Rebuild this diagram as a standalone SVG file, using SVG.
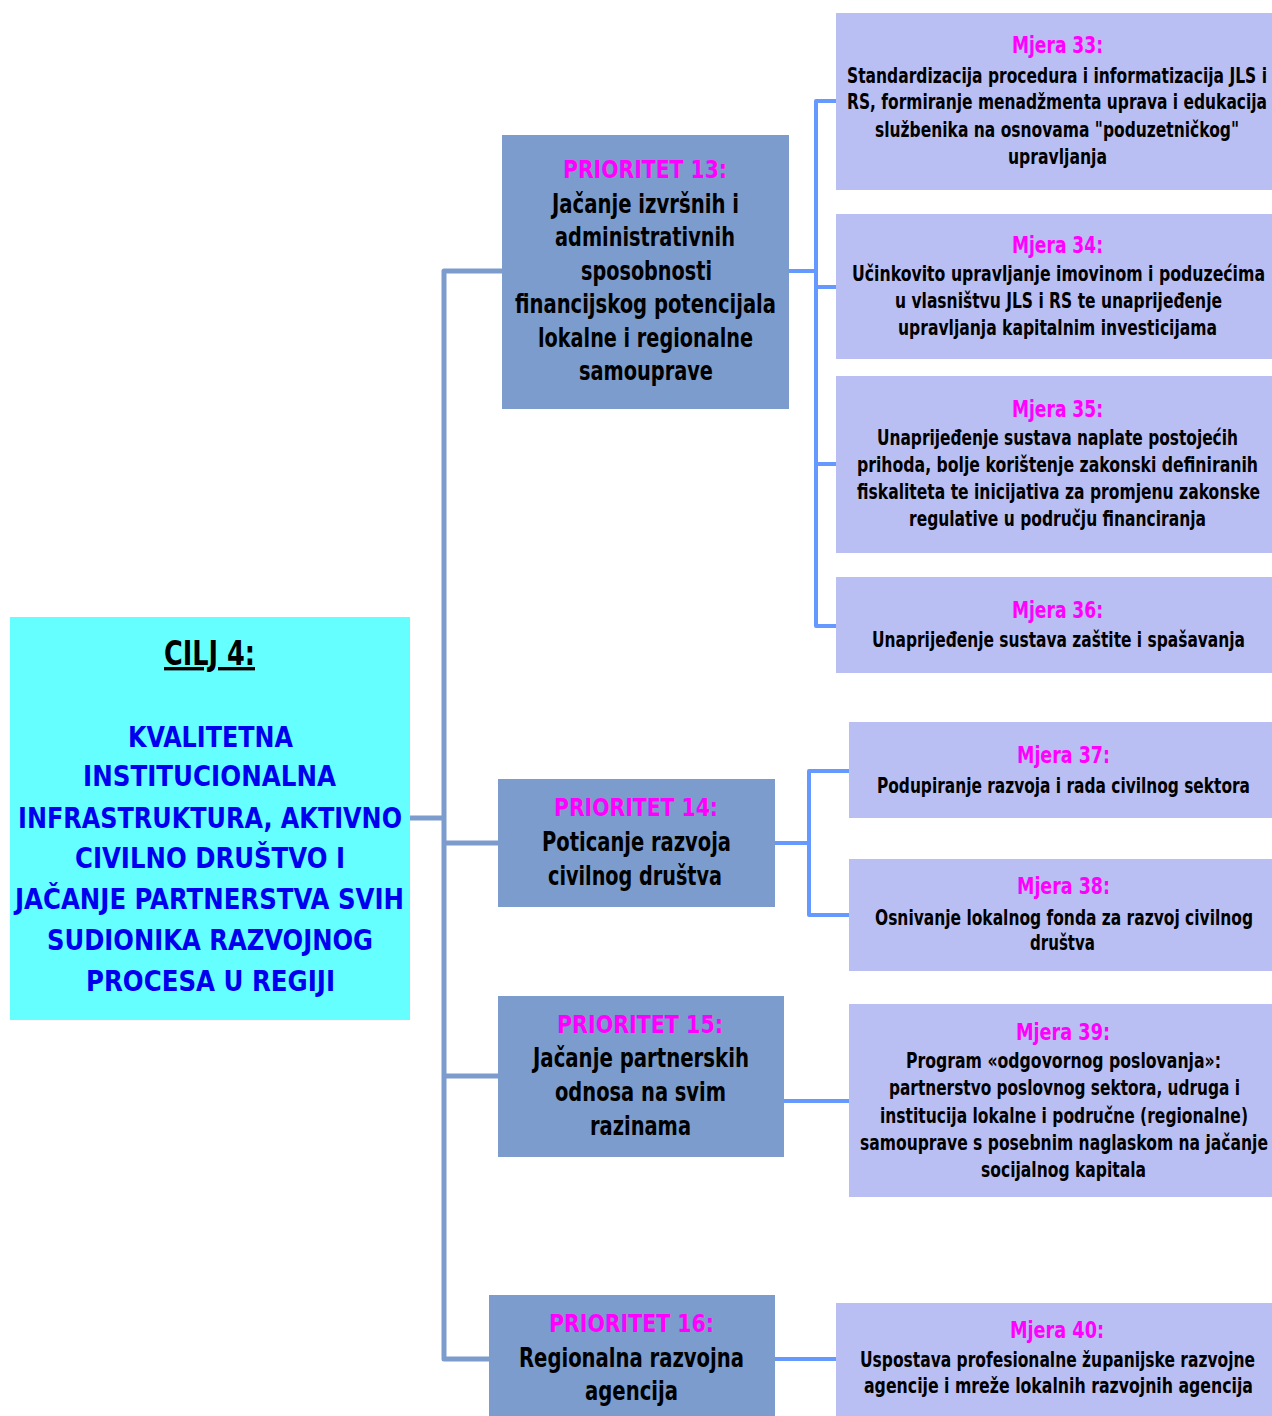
<svg xmlns="http://www.w3.org/2000/svg" width="1272" height="1416" viewBox="0 0 1272 1416">
<style>
text{font-family:"DejaVu Sans Condensed","DejaVu Sans",sans-serif;font-weight:bold;text-anchor:middle;}
.goal{fill:#66FFFF;}
.pri{fill:#7B9CCC;}
.mj{fill:#B9BFF2;}
.gt{fill:#0000EE;font-size:28px;}
.ct{fill:#000;font-size:34px;text-decoration:underline;}
.pt{fill:#FF00FF;font-size:25px;}
.pb{fill:#000;font-size:27px;}
.mt{fill:#FF00FF;font-size:23px;}
.mb{fill:#000;font-size:21px;}
.trunk{stroke:#7B9CCC;stroke-width:5;fill:none;stroke-linecap:round;stroke-linejoin:round;}
.br{stroke:#6699FF;stroke-width:4;fill:none;stroke-linecap:round;stroke-linejoin:round;}
</style>
<rect width="1272" height="1416" fill="#fff"/>
<g id="connectors">
<path class="trunk" d="M410,818 H444 M502,271 H444 V1359 H489 M444,843 H498 M444,1076 H498"/>
<path class="br" d="M789,271 H816 M836,101 H816 V626 H836 M816,287 H836 M816,464 H836"/>
<path class="br" d="M775,843 H809 M849,771 H809 V915 H849"/>
<path class="br" d="M784,1101 H849"/>
<path class="br" d="M775,1359 H836"/>
</g>
<g id="cilj4">
<rect class="goal" x="10" y="617" width="400" height="403"/>
<text class="ct" x="209.5" y="665" textLength="91" lengthAdjust="spacingAndGlyphs">CILJ 4:</text>
<text class="gt" x="210.5" y="747" textLength="165" lengthAdjust="spacingAndGlyphs">KVALITETNA</text>
<text class="gt" x="209.5" y="786" textLength="253" lengthAdjust="spacingAndGlyphs">INSTITUCIONALNA</text>
<text class="gt" x="210" y="828" textLength="384" lengthAdjust="spacingAndGlyphs">INFRASTRUKTURA, AKTIVNO</text>
<text class="gt" x="210" y="868" textLength="270" lengthAdjust="spacingAndGlyphs">CIVILNO DRUŠTVO I</text>
<text class="gt" x="209.5" y="909" textLength="389" lengthAdjust="spacingAndGlyphs">JAČANJE PARTNERSTVA SVIH</text>
<text class="gt" x="210" y="950" textLength="326" lengthAdjust="spacingAndGlyphs">SUDIONIKA RAZVOJNOG</text>
<text class="gt" x="210.5" y="991" textLength="249" lengthAdjust="spacingAndGlyphs">PROCESA U REGIJI</text>
</g>
<g id="prioritet13">
<rect class="pri" x="502" y="135" width="287" height="274"/>
<text class="pt" x="645" y="178" textLength="164" lengthAdjust="spacingAndGlyphs">PRIORITET 13:</text>
<text class="pb" x="645.5" y="213" textLength="187" lengthAdjust="spacingAndGlyphs">Jačanje izvršnih i</text>
<text class="pb" x="645" y="246" textLength="180" lengthAdjust="spacingAndGlyphs">administrativnih</text>
<text class="pb" x="646.5" y="280" textLength="131" lengthAdjust="spacingAndGlyphs">sposobnosti</text>
<text class="pb" x="645.5" y="313" textLength="261" lengthAdjust="spacingAndGlyphs">financijskog potencijala</text>
<text class="pb" x="645.5" y="347" textLength="215" lengthAdjust="spacingAndGlyphs">lokalne i regionalne</text>
<text class="pb" x="646" y="380" textLength="134" lengthAdjust="spacingAndGlyphs">samouprave</text>
</g>
<g id="prioritet14">
<rect class="pri" x="498" y="779" width="277" height="128"/>
<text class="pt" x="636" y="816" textLength="164" lengthAdjust="spacingAndGlyphs">PRIORITET 14:</text>
<text class="pb" x="636.5" y="851" textLength="189" lengthAdjust="spacingAndGlyphs">Poticanje razvoja</text>
<text class="pb" x="635" y="885" textLength="174" lengthAdjust="spacingAndGlyphs">civilnog društva</text>
</g>
<g id="prioritet15">
<rect class="pri" x="498" y="996" width="286" height="161"/>
<text class="pt" x="640" y="1033" textLength="166" lengthAdjust="spacingAndGlyphs">PRIORITET 15:</text>
<text class="pb" x="641" y="1067" textLength="216" lengthAdjust="spacingAndGlyphs">Jačanje partnerskih</text>
<text class="pb" x="640.5" y="1101" textLength="171" lengthAdjust="spacingAndGlyphs">odnosa na svim</text>
<text class="pb" x="640.5" y="1135" textLength="101" lengthAdjust="spacingAndGlyphs">razinama</text>
</g>
<g id="prioritet16">
<rect class="pri" x="489" y="1295" width="286" height="121"/>
<text class="pt" x="631.5" y="1332" textLength="165" lengthAdjust="spacingAndGlyphs">PRIORITET 16:</text>
<text class="pb" x="631.5" y="1367" textLength="225" lengthAdjust="spacingAndGlyphs">Regionalna razvojna</text>
<text class="pb" x="631.5" y="1400" textLength="93" lengthAdjust="spacingAndGlyphs">agencija</text>
</g>
<g id="mjera33">
<rect class="mj" x="836" y="13" width="436" height="177"/>
<text class="mt" x="1057.5" y="53" textLength="91" lengthAdjust="spacingAndGlyphs">Mjera 33:</text>
<text class="mb" x="1057" y="83" textLength="420" lengthAdjust="spacingAndGlyphs">Standardizacija procedura i informatizacija JLS i</text>
<text class="mb" x="1057" y="109" textLength="420" lengthAdjust="spacingAndGlyphs">RS, formiranje menadžmenta uprava i edukacija</text>
<text class="mb" x="1057" y="137" textLength="364" lengthAdjust="spacingAndGlyphs">službenika na osnovama "poduzetničkog"</text>
<text class="mb" x="1057.5" y="164" textLength="99" lengthAdjust="spacingAndGlyphs">upravljanja</text>
</g>
<g id="mjera34">
<rect class="mj" x="836" y="214" width="436" height="145"/>
<text class="mt" x="1057.5" y="253" textLength="91" lengthAdjust="spacingAndGlyphs">Mjera 34:</text>
<text class="mb" x="1058.5" y="281" textLength="413" lengthAdjust="spacingAndGlyphs">Učinkovito upravljanje imovinom i  poduzećima</text>
<text class="mb" x="1058.5" y="308" textLength="327" lengthAdjust="spacingAndGlyphs">u vlasništvu JLS i RS te unaprijeđenje</text>
<text class="mb" x="1057.5" y="335" textLength="319" lengthAdjust="spacingAndGlyphs">upravljanja kapitalnim investicijama</text>
</g>
<g id="mjera35">
<rect class="mj" x="836" y="376" width="436" height="177"/>
<text class="mt" x="1057.5" y="417" textLength="91" lengthAdjust="spacingAndGlyphs">Mjera 35:</text>
<text class="mb" x="1057.5" y="445" textLength="361" lengthAdjust="spacingAndGlyphs">Unaprijeđenje sustava naplate postojećih</text>
<text class="mb" x="1057.5" y="472" textLength="401" lengthAdjust="spacingAndGlyphs">prihoda, bolje korištenje  zakonski definiranih</text>
<text class="mb" x="1058.5" y="499" textLength="403" lengthAdjust="spacingAndGlyphs">fiskaliteta te inicijativa za promjenu zakonske</text>
<text class="mb" x="1057.5" y="526" textLength="297" lengthAdjust="spacingAndGlyphs">regulative u području financiranja</text>
</g>
<g id="mjera36">
<rect class="mj" x="836" y="577" width="436" height="96"/>
<text class="mt" x="1057.5" y="618" textLength="91" lengthAdjust="spacingAndGlyphs">Mjera 36:</text>
<text class="mb" x="1058.5" y="647" textLength="373" lengthAdjust="spacingAndGlyphs">Unaprijeđenje sustava zaštite i spašavanja</text>
</g>
<g id="mjera37">
<rect class="mj" x="849" y="722" width="423" height="96"/>
<text class="mt" x="1063.5" y="763" textLength="93" lengthAdjust="spacingAndGlyphs">Mjera 37:</text>
<text class="mb" x="1063.5" y="793" textLength="373" lengthAdjust="spacingAndGlyphs">Podupiranje razvoja i rada civilnog sektora</text>
</g>
<g id="mjera38">
<rect class="mj" x="849" y="859" width="423" height="112"/>
<text class="mt" x="1063.5" y="894" textLength="93" lengthAdjust="spacingAndGlyphs">Mjera 38:</text>
<text class="mb" x="1064" y="925" textLength="378" lengthAdjust="spacingAndGlyphs">Osnivanje lokalnog fonda za razvoj civilnog</text>
<text class="mb" x="1062.5" y="950" textLength="65" lengthAdjust="spacingAndGlyphs">društva</text>
</g>
<g id="mjera39">
<rect class="mj" x="849" y="1004" width="423" height="193"/>
<text class="mt" x="1063" y="1040" textLength="94" lengthAdjust="spacingAndGlyphs">Mjera 39:</text>
<text class="mb" x="1063.5" y="1068" textLength="315" lengthAdjust="spacingAndGlyphs">Program «odgovornog poslovanja»:</text>
<text class="mb" x="1064.5" y="1095" textLength="351" lengthAdjust="spacingAndGlyphs">partnerstvo poslovnog sektora, udruga i</text>
<text class="mb" x="1064" y="1123" textLength="368" lengthAdjust="spacingAndGlyphs">institucija lokalne i područne (regionalne)</text>
<text class="mb" x="1064" y="1150" textLength="408" lengthAdjust="spacingAndGlyphs">samouprave s posebnim naglaskom na jačanje</text>
<text class="mb" x="1063.5" y="1177" textLength="165" lengthAdjust="spacingAndGlyphs">socijalnog kapitala</text>
</g>
<g id="mjera40">
<rect class="mj" x="836" y="1303" width="436" height="113"/>
<text class="mt" x="1057" y="1338" textLength="94" lengthAdjust="spacingAndGlyphs">Mjera 40:</text>
<text class="mb" x="1057.5" y="1367" textLength="395" lengthAdjust="spacingAndGlyphs">Uspostava profesionalne županijske razvojne</text>
<text class="mb" x="1058.5" y="1393" textLength="389" lengthAdjust="spacingAndGlyphs">agencije i mreže lokalnih razvojnih  agencija</text>
</g>
</svg>
